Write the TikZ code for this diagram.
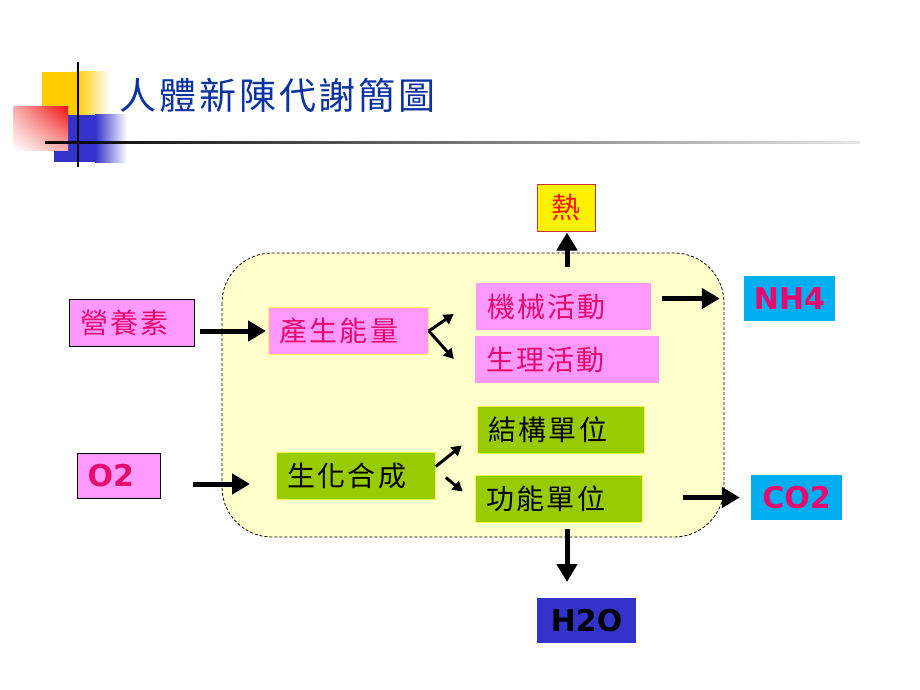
\documentclass[tikz,border=0pt]{standalone}
\usepackage{fontspec}
\newfontfamily\cjk[LetterSpace=8]{Noto Sans CJK TC}
\newfontfamily\latin{DejaVu Sans}
\usetikzlibrary{arrows.meta,shadings}

\definecolor{boxpink}{RGB}{255,153,255}
\definecolor{textpink}{RGB}{230,10,110}
\definecolor{leaf}{RGB}{153,204,0}
\definecolor{cream}{RGB}{255,255,204}
\definecolor{titleblue}{RGB}{10,50,160}
\definecolor{decoyellow}{RGB}{255,204,0}
\definecolor{decoblue}{RGB}{51,51,204}
\definecolor{decored}{RGB}{240,20,20}
\definecolor{heatred}{RGB}{204,51,51}

\tikzset{
	box/.style={anchor=west, minimum height=47pt, inner xsep=11pt, inner ysep=0pt, align=left, font=\cjk\fontsize{28}{28}\selectfont},
	pinkbox/.style={box, fill=boxpink, text=textpink},
	leafbox/.style={box, fill=leaf, text=black, draw=yellow!70!white, line width=0.8pt},
	gasbox/.style={minimum height=45pt, inner xsep=10pt, inner ysep=0pt, font=\latin\bfseries\fontsize{30}{30}\selectfont},
	bigarrow/.style={-{Triangle[length=18pt,width=20pt]}, line width=5pt},
	smallarrow/.style={-{Triangle[length=10pt,width=11pt]}, line width=3pt},
}

\begin{document}
\begin{tikzpicture}[x=1pt,y=-1pt]
	\useasboundingbox (0,0) rectangle (920,690);
	\fill[white] (0,0) rectangle (920,690);

	\begin{scope} % title corner
		\fill[decoyellow] (42,72) rectangle (76,125);
		\shade[left color=decoyellow, right color=white] (76,72) rectangle (110,125);
		\fill[decoblue] (54,115) rectangle (95,162);
		\shade[left color=decoblue, right color=white] (95,115) rectangle (127,162);
		\shade[upper right=decored, upper left=decored!35, lower right=decored!35, lower left=white] (13,107) rectangle (68,150);
		\draw[line width=2pt] (78,62) -- (78,167);
		\shade[left color=black, right color=black!10] (45,141) rectangle (860,143.5);
	\end{scope}

	\node[anchor=west, inner sep=0pt, text=titleblue, font=\cjk\fontsize{37}{37}\selectfont] (title) at (119,95) {人體新陳代謝簡圖};

	% body
	\draw[fill=cream, dash pattern=on 3pt off 2pt, line width=0.8pt, rounded corners=50pt] (222,253) rectangle (724,537);

	\node[pinkbox, draw=black, line width=1pt, text width=103pt] (nutrient) at (69,322.5) {營養素};
	\node[pinkbox, draw=yellow!70!white, line width=0.8pt, text width=138pt] (energy) at (268,331) {產生能量};
	\node[pinkbox, text width=153pt] (mech) at (476,306.5) {機械活動};
	\node[pinkbox, text width=162pt] (physio) at (475,359.5) {生理活動};

	\node[gasbox, anchor=west, fill=boxpink, draw=black, line width=1pt, text=textpink, text width=63pt, align=left] (oxy) at (77,476) {O2};
	\node[leafbox, text width=137pt] (synth) at (276,475.5) {生化合成};
	\node[leafbox, text width=145pt] (struct) at (477,429.5) {結構單位};
	\node[leafbox, text width=145pt] (func) at (475,498.5) {功能單位};

	\node[fill=yellow, draw=heatred, line width=1pt, text=red!85!orange, minimum width=58pt, minimum height=47pt, inner sep=0pt, font=\cjk\fontsize{29}{29}\selectfont] (heat) at (566,207.5) {熱};
	\node[gasbox, fill=cyan, text=textpink, minimum width=91pt] (nh) at (789.5,298.5) {NH4};
	\node[gasbox, fill=cyan, text=textpink, minimum width=91pt] (co) at (796.5,497.5) {CO2};
	\node[gasbox, fill=decoblue, text=black, minimum width=99pt] (water) at (586.5,620.5) {H2O};
	\coordinate (waterin) at (567,598);

	% connectors
	\draw[bigarrow, shorten <=5pt, shorten >=2pt] (nutrient.east |- energy.west) -- (energy.west);
	\draw[bigarrow, shorten <=32pt, shorten >=26pt] ([yshift=-8pt]oxy.east) -- ([yshift=-8pt]oxy.east -| synth.west);
	\draw[bigarrow, shorten <=16pt, shorten >=1pt] (mech.north -| 567,0) -- (heat.south -| 567,0);
	\draw[bigarrow, shorten <=11pt, shorten >=24pt] (mech.east |- nh.west) -- (nh.west);
	\draw[bigarrow, shorten <=40pt, shorten >=11pt] (func.east |- co.west) -- (co.west);
	\draw[bigarrow, shorten <=7pt, shorten >=16pt] (waterin |- func.south) -- (waterin);

	\draw[smallarrow] (energy.east) -- ++(25,-17);
	\draw[smallarrow] (energy.east) -- ++(25,28);
	\draw[smallarrow] ([yshift=9pt]synth.east) -- ++(26,-21);
	\draw[smallarrow] ([xshift=10pt,yshift=-2pt]synth.east) -- ++(17,14);
\end{tikzpicture}
\end{document}
